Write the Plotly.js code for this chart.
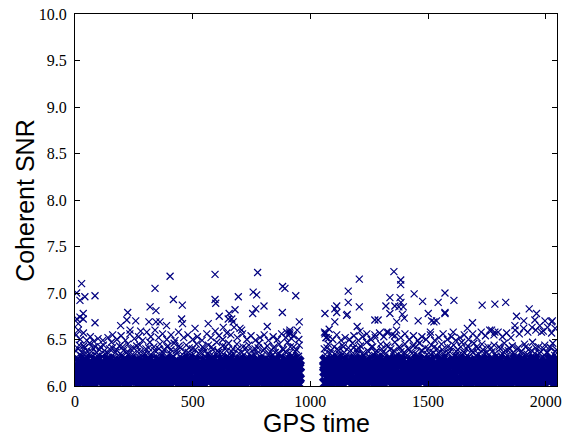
<!DOCTYPE html>
<html>
<head>
<meta charset="utf-8">
<script src="https://cdn.plot.ly/plotly-3.0.1.min.js"></script>
<style>html,body{margin:0;padding:0;background:#fff;}#chart{width:563px;height:436px;}</style>
</head>
<body>
<div id="chart"></div>
<script>
// Triggers: [GPS time, coherent SNR]
// Dense floor of triggers just above the 6.0 threshold
const floorRow1 = [[3,6.02],[27,6.04],[49,6.01],[76,6.03],[101,6.05],[124,6.02],[150,6.03],[176,6.01],[199,6.04],[223,6.02],[248,6.05],[274,6.01],[298,6.03],[322,6.02],[347,6.04],[371,6.01],[396,6.03],[421,6.05],[445,6.02],[470,6.01],[494,6.04],[519,6.03],[543,6.02],[568,6.05],[592,6.01],[617,6.03],[641,6.04],[666,6.02],[690,6.01],[715,6.03],[739,6.05],[764,6.02],[788,6.04],[813,6.01],[837,6.03],[862,6.02],[886,6.04],[911,6.01],[935,6.03],[949,6.02],
[1065,6.03],[1084,6.01],[1109,6.04],[1133,6.02],[1158,6.05],[1182,6.01],[1207,6.03],[1231,6.02],[1256,6.04],[1280,6.01],[1305,6.03],[1329,6.05],[1354,6.02],[1378,6.01],[1403,6.04],[1427,6.03],[1452,6.02],[1476,6.05],[1501,6.01],[1525,6.03],[1550,6.04],[1574,6.02],[1599,6.01],[1623,6.03],[1648,6.05],[1672,6.02],[1697,6.04],[1721,6.01],[1746,6.03],[1770,6.02],[1795,6.04],[1819,6.01],[1844,6.03],[1868,6.05],[1893,6.02],[1917,6.01],[1942,6.04],[1966,6.03],[1991,6.02],[2015,6.05],[2040,6.01]];
const floorRow2 = [[14,6.08],[38,6.10],[63,6.07],[88,6.09],[112,6.11],[137,6.08],[161,6.07],[186,6.10],[211,6.09],[235,6.07],[260,6.11],[285,6.08],[309,6.09],[334,6.07],[359,6.10],[383,6.08],[408,6.11],[433,6.07],[457,6.09],[482,6.10],[506,6.08],[531,6.07],[556,6.11],[580,6.09],[605,6.08],[629,6.10],[654,6.07],[678,6.09],[703,6.11],[727,6.08],[752,6.07],[776,6.10],[801,6.09],[825,6.08],[850,6.11],[874,6.07],[899,6.09],[923,6.10],[946,6.08],
[1072,6.09],[1097,6.07],[1121,6.10],[1146,6.08],[1170,6.11],[1195,6.07],[1219,6.09],[1244,6.10],[1268,6.08],[1293,6.07],[1317,6.11],[1342,6.09],[1366,6.08],[1391,6.10],[1415,6.07],[1440,6.09],[1464,6.11],[1489,6.08],[1513,6.07],[1538,6.10],[1562,6.09],[1587,6.08],[1611,6.11],[1636,6.07],[1660,6.09],[1685,6.10],[1709,6.08],[1734,6.07],[1758,6.11],[1783,6.09],[1807,6.08],[1832,6.10],[1856,6.07],[1881,6.09],[1905,6.11],[1930,6.08],[1954,6.07],[1979,6.10],[2003,6.09],[2028,6.08],[2047,6.10]];
const floorRow3 = [[6,6.15],[31,6.13],[55,6.17],[80,6.14],[104,6.16],[129,6.13],[153,6.18],[178,6.15],[202,6.14],[227,6.17],[251,6.13],[276,6.16],[300,6.15],[325,6.18],[349,6.14],[374,6.13],[398,6.17],[423,6.15],[447,6.16],[472,6.14],[496,6.18],[521,6.13],[545,6.15],[570,6.17],[594,6.14],[619,6.16],[643,6.13],[668,6.18],[692,6.15],[717,6.14],[741,6.17],[766,6.13],[790,6.16],[815,6.15],[839,6.18],[864,6.14],[888,6.13],[913,6.17],[937,6.15],[949,6.14],
[1066,6.16],[1086,6.14],[1111,6.17],[1135,6.13],[1160,6.15],[1184,6.18],[1209,6.14],[1233,6.16],[1258,6.13],[1282,6.17],[1307,6.15],[1331,6.14],[1356,6.18],[1380,6.13],[1405,6.16],[1429,6.15],[1454,6.17],[1478,6.14],[1503,6.13],[1527,6.18],[1552,6.15],[1576,6.16],[1601,6.14],[1625,6.17],[1650,6.13],[1674,6.15],[1699,6.18],[1723,6.14],[1748,6.16],[1772,6.13],[1797,6.17],[1821,6.15],[1846,6.14],[1870,6.18],[1895,6.16],[1919,6.13],[1944,6.15],[1968,6.17],[1993,6.14],[2017,6.16],[2042,6.15]];
const floorRow4 = [[17,6.26],[42,6.28],[66,6.25],[91,6.27],[115,6.24],[140,6.28],[164,6.26],[189,6.25],[213,6.28],[238,6.27],[262,6.24],[287,6.26],[311,6.28],[336,6.25],[360,6.27],[385,6.28],[409,6.24],[434,6.26],[458,6.25],[483,6.28],[507,6.27],[532,6.24],[556,6.26],[581,6.28],[605,6.25],[630,6.27],[654,6.28],[679,6.24],[703,6.26],[728,6.28],[752,6.25],[777,6.27],[801,6.24],[826,6.26],[850,6.28],[875,6.25],[899,6.27],[924,6.28],[947,6.26],
[1066,6.27],[1091,6.25],[1115,6.28],[1140,6.24],[1164,6.26],[1189,6.28],[1213,6.25],[1238,6.27],[1262,6.24],[1287,6.28],[1311,6.26],[1336,6.25],[1360,6.28],[1385,6.27],[1409,6.24],[1434,6.26],[1458,6.28],[1483,6.25],[1507,6.27],[1532,6.24],[1556,6.28],[1581,6.26],[1605,6.25],[1630,6.28],[1654,6.27],[1679,6.24],[1703,6.26],[1728,6.28],[1752,6.25],[1777,6.27],[1801,6.28],[1826,6.24],[1850,6.26],[1875,6.28],[1899,6.25],[1924,6.27],[1948,6.28],[1973,6.26],[1997,6.24],[2022,6.28],[2046,6.27]];
const floorRow5 = [[5,6.21],[29,6.20],[54,6.22],[78,6.21],[103,6.20],[127,6.22],[152,6.21],[176,6.20],[201,6.22],[225,6.21],[250,6.20],[274,6.22],[299,6.21],[323,6.20],[348,6.22],[372,6.21],[397,6.20],[421,6.22],[446,6.21],[470,6.20],[495,6.22],[519,6.21],[544,6.20],[568,6.22],[593,6.21],[617,6.20],[642,6.22],[666,6.21],[691,6.20],[715,6.22],[740,6.21],[764,6.20],[789,6.22],[813,6.21],[838,6.20],[862,6.22],[887,6.21],[911,6.20],[936,6.22],[949,6.21],
[1065,6.21],[1083,6.22],[1108,6.20],[1132,6.21],[1157,6.22],[1181,6.20],[1206,6.21],[1230,6.22],[1255,6.20],[1279,6.21],[1304,6.22],[1328,6.20],[1353,6.21],[1377,6.22],[1402,6.20],[1426,6.21],[1451,6.22],[1475,6.20],[1500,6.21],[1524,6.22],[1549,6.20],[1573,6.21],[1598,6.22],[1622,6.20],[1647,6.21],[1671,6.22],[1696,6.20],[1720,6.21],[1745,6.22],[1769,6.20],[1794,6.21],[1818,6.22],[1843,6.20],[1867,6.21],[1892,6.22],[1916,6.20],[1941,6.21],[1965,6.22],[1990,6.20],[2014,6.21],[2039,6.22]];
// Busy layer 6.25 - 6.47
const busyLeft = [[2,6.38],[10,6.29],[18,6.44],[25,6.33],[33,6.27],[40,6.41],[47,6.35],[55,6.30],[62,6.46],[70,6.37],[79,6.28],[86,6.42],[95,6.32],[104,6.39],[112,6.27],[121,6.44],[130,6.34],[138,6.29],[147,6.40],[155,6.47],[163,6.31],[172,6.36],[180,6.28],[189,6.43],[198,6.33],[206,6.38],[215,6.27],[224,6.45],[232,6.35],[241,6.30],[249,6.41],[258,6.29],[266,6.37],[275,6.44],[284,6.32],[292,6.28],[301,6.40],[309,6.35],[318,6.47],[327,6.30],[335,6.42],[344,6.37],[352,6.28],[361,6.45],[370,6.33],[378,6.39],[387,6.29],[395,6.43],[404,6.35],[413,6.31],[421,6.46],[430,6.38],[438,6.27],[447,6.41],[456,6.34],[464,6.29],[473,6.44],[481,6.36],[490,6.31],[499,6.40],[507,6.28],[516,6.45],[524,6.35],[533,6.30],[542,6.42],[550,6.37],[559,6.27],[567,6.44],[576,6.33],[585,6.39],[593,6.29],[602,6.47],[610,6.36],[619,6.31],[628,6.43],[636,6.28],[645,6.38],[653,6.46],[662,6.33],[671,6.40],[679,6.29],[688,6.45],[696,6.35],[705,6.30],[714,6.42],[722,6.27],[731,6.37],[739,6.44],[748,6.32],[757,6.28],[765,6.40],[774,6.35],[782,6.46],[791,6.30],[800,6.38],[808,6.27],[817,6.43],[825,6.34],[834,6.29],[843,6.41],[851,6.36],[860,6.28],[868,6.45],[877,6.33],[886,6.39],[894,6.30],[903,6.47],[911,6.35],[920,6.28],[929,6.42],[937,6.37],[946,6.31],[953,6.44]];
const busyLeft2 = [[6,6.31],[14,6.40],[21,6.26],[29,6.36],[37,6.43],[44,6.29],[51,6.38],[59,6.25],[66,6.33],[75,6.41],[83,6.30],[91,6.36],[99,6.27],[108,6.42],[116,6.32],[125,6.38],[134,6.26],[142,6.35],[151,6.30],[159,6.41],[168,6.27],[176,6.39],[185,6.33],[193,6.26],[202,6.42],[211,6.30],[219,6.36],[228,6.28],[236,6.40],[245,6.34],[254,6.26],[262,6.43],[271,6.31],[279,6.37],[288,6.27],[296,6.35],[305,6.29],[313,6.41],[322,6.34],[331,6.26],[339,6.38],[348,6.31],[356,6.40],[365,6.27],[374,6.36],[382,6.30],[391,6.42],[399,6.26],[408,6.39],[417,6.32],[425,6.28],[434,6.35],[442,6.43],[451,6.30],[460,6.26],[468,6.37],[477,6.32],[485,6.41],[494,6.27],[503,6.34],[511,6.39],[520,6.29],[528,6.26],[537,6.36],[546,6.41],[554,6.31],[563,6.35],[571,6.28],[580,6.42],[589,6.32],[597,6.26],[606,6.38],[614,6.30],[623,6.36],[632,6.27],[640,6.42],[649,6.32],[658,6.28],[666,6.37],[675,6.34],[683,6.26],[692,6.40],[700,6.30],[709,6.36],[718,6.28],[726,6.41],[735,6.31],[743,6.26],[752,6.38],[761,6.34],[769,6.29],[778,6.41],[786,6.27],[795,6.33],[804,6.40],[812,6.30],[821,6.26],[829,6.37],[838,6.33],[847,6.42],[855,6.27],[864,6.35],[872,6.31],[881,6.40],[890,6.26],[898,6.36],[907,6.30],[915,6.42],[924,6.33],[933,6.27],[941,6.39],[950,6.32],[955,6.26]];
const busyRight = [[1059,6.40],[1067,6.30],[1076,6.45],[1084,6.35],[1093,6.28],[1101,6.42],[1110,6.33],[1119,6.38],[1127,6.27],[1136,6.44],[1144,6.36],[1153,6.31],[1162,6.41],[1170,6.29],[1179,6.46],[1187,6.34],[1196,6.39],[1205,6.28],[1213,6.43],[1222,6.35],[1230,6.30],[1239,6.47],[1248,6.37],[1256,6.27],[1265,6.42],[1273,6.33],[1282,6.38],[1291,6.29],[1299,6.45],[1308,6.36],[1316,6.31],[1325,6.44],[1334,6.28],[1342,6.40],[1351,6.35],[1359,6.47],[1368,6.30],[1377,6.42],[1385,6.37],[1394,6.28],[1402,6.45],[1411,6.33],[1420,6.39],[1428,6.29],[1437,6.43],[1445,6.35],[1454,6.31],[1463,6.46],[1471,6.38],[1480,6.27],[1488,6.41],[1497,6.34],[1506,6.29],[1514,6.44],[1523,6.36],[1531,6.31],[1540,6.40],[1549,6.28],[1557,6.45],[1566,6.35],[1574,6.30],[1583,6.42],[1592,6.37],[1600,6.27],[1609,6.44],[1617,6.33],[1626,6.39],[1635,6.29],[1643,6.47],[1652,6.36],[1660,6.31],[1669,6.43],[1678,6.28],[1686,6.38],[1695,6.46],[1703,6.33],[1712,6.40],[1721,6.29],[1729,6.45],[1738,6.35],[1746,6.30],[1755,6.42],[1764,6.27],[1772,6.37],[1781,6.44],[1789,6.32],[1798,6.28],[1807,6.40],[1815,6.35],[1824,6.46],[1832,6.30],[1841,6.38],[1850,6.27],[1858,6.43],[1867,6.34],[1875,6.29],[1884,6.41],[1893,6.36],[1901,6.28],[1910,6.45],[1918,6.33],[1927,6.39],[1936,6.30],[1944,6.47],[1953,6.35],[1961,6.28],[1970,6.42],[1979,6.37],[1987,6.31],[1996,6.44],[2004,6.36],[2013,6.29],[2021,6.41],[2030,6.46],[2038,6.33],[2046,6.39]];
const busyRight2 = [[1063,6.34],[1071,6.41],[1080,6.27],[1088,6.38],[1097,6.31],[1105,6.26],[1114,6.40],[1123,6.34],[1131,6.29],[1140,6.42],[1148,6.32],[1157,6.26],[1166,6.37],[1174,6.30],[1183,6.41],[1191,6.27],[1200,6.35],[1209,6.40],[1217,6.29],[1226,6.33],[1234,6.26],[1243,6.38],[1252,6.31],[1260,6.42],[1269,6.28],[1277,6.36],[1286,6.32],[1295,6.26],[1303,6.40],[1312,6.29],[1320,6.35],[1329,6.42],[1338,6.31],[1346,6.26],[1355,6.38],[1363,6.33],[1372,6.27],[1381,6.41],[1389,6.32],[1398,6.36],[1406,6.26],[1415,6.40],[1424,6.30],[1432,6.35],[1441,6.27],[1449,6.42],[1458,6.33],[1467,6.29],[1475,6.38],[1484,6.31],[1492,6.26],[1501,6.40],[1510,6.34],[1518,6.28],[1527,6.42],[1535,6.30],[1544,6.36],[1553,6.26],[1561,6.39],[1570,6.32],[1578,6.28],[1587,6.35],[1596,6.41],[1604,6.30],[1613,6.26],[1621,6.37],[1630,6.33],[1639,6.42],[1647,6.28],[1656,6.35],[1664,6.40],[1673,6.31],[1682,6.26],[1690,6.36],[1699,6.30],[1707,6.42],[1716,6.34],[1725,6.27],[1733,6.39],[1742,6.31],[1750,6.36],[1759,6.26],[1768,6.41],[1776,6.30],[1785,6.35],[1793,6.28],[1802,6.42],[1811,6.32],[1819,6.26],[1828,6.38],[1836,6.33],[1845,6.41],[1854,6.29],[1862,6.36],[1871,6.26],[1879,6.40],[1888,6.31],[1897,6.37],[1905,6.28],[1914,6.42],[1922,6.34],[1931,6.27],[1940,6.38],[1948,6.32],[1957,6.41],[1965,6.26],[1974,6.35],[1983,6.30],[1991,6.40],[2000,6.28],[2008,6.36],[2017,6.42],[2025,6.31],[2034,6.26],[2042,6.37]];
// Thinner layer 6.48 - 6.65
const upperLeft = [[5,6.55],[14,6.60],[22,6.50],[36,6.57],[50,6.49],[65,6.53],[80,6.48],[98,6.51],[118,6.49],[140,6.52],[160,6.55],[178,6.50],[196,6.54],[214,6.49],[233,6.56],[252,6.51],[270,6.53],[288,6.49],[305,6.58],[322,6.53],[340,6.60],[355,6.52],[372,6.56],[390,6.50],[408,6.55],[425,6.49],[440,6.58],[462,6.52],[480,6.55],[500,6.50],[520,6.53],[540,6.49],[560,6.56],[578,6.52],[596,6.59],[612,6.54],[628,6.50],[645,6.57],[662,6.55],[676,6.63],[690,6.52],[712,6.56],[730,6.50],[748,6.54],[766,6.49],[786,6.52],[804,6.55],[822,6.49],[842,6.53],[860,6.50],[878,6.56],[896,6.52],[912,6.58],[928,6.54],[944,6.60],[951,6.50],[899,6.58],[913,6.56],[920,6.51]];
const upperRight = [[1060,6.58],[1068,6.52],[1080,6.61],[1095,6.50],[1112,6.55],[1130,6.49],[1148,6.52],[1166,6.50],[1185,6.54],[1204,6.49],[1222,6.53],[1240,6.56],[1258,6.50],[1276,6.52],[1294,6.57],[1312,6.53],[1330,6.58],[1348,6.55],[1366,6.60],[1384,6.52],[1402,6.56],[1420,6.50],[1438,6.54],[1456,6.49],[1474,6.53],[1492,6.50],[1510,6.55],[1528,6.49],[1546,6.52],[1564,6.56],[1582,6.50],[1600,6.53],[1618,6.49],[1636,6.52],[1654,6.55],[1672,6.50],[1690,6.56],[1708,6.52],[1726,6.58],[1744,6.54],[1762,6.60],[1780,6.55],[1798,6.58],[1816,6.53],[1834,6.57],[1852,6.52],[1870,6.60],[1888,6.56],[1906,6.62],[1924,6.58],[1942,6.63],[1958,6.60],[1975,6.65],[1990,6.59],[2008,6.63],[2025,6.57],[2040,6.62],[1062,6.56],[1076,6.51]];
// Loud outliers
const loudLeft = [[404,7.18],[28,7.10],[340,7.05],[7,7.00],[42,6.96],[85,6.97],[21,6.92],[418,6.93],[456,6.87],[319,6.85],[344,6.81],[224,6.79],[35,6.78],[35,6.72],[21,6.74],[85,6.68],[220,6.71],[258,6.70],[314,6.69],[344,6.69],[361,6.69],[194,6.65],[234,6.60],[389,6.65],[453,6.72],[457,6.67],[279,6.59],[8,6.72],[14,6.67],
[595,7.20],[776,7.22],[882,7.07],[892,7.05],[757,7.01],[772,6.98],[694,6.96],[938,6.97],[595,6.93],[598,6.89],[803,6.86],[768,6.83],[755,6.78],[680,6.82],[881,6.79],[613,6.75],[655,6.78],[666,6.72],[651,6.72],[672,6.69],[953,6.69],[817,6.64],[701,6.62],[708,6.60],[630,6.63],[566,6.67],[510,6.62],[913,6.60]];
const loudRight = [[1355,7.23],[1208,7.15],[1384,7.14],[1384,7.09],[1161,7.02],[1441,6.99],[1338,6.95],[1381,6.95],[1385,6.90],[1376,6.85],[1477,6.91],[1161,6.90],[1112,6.86],[1112,6.79],[1208,6.85],[1321,6.86],[1359,6.86],[1395,6.85],[1391,6.77],[1062,6.78],[1157,6.77],[1338,6.78],[1501,6.78],[1104,6.69],[1367,6.69],[1399,6.73],[1458,6.70],[1515,6.70],[1274,6.71],[1288,6.71],[1199,6.64],[1066,6.57],[1066,6.52],[1211,6.59],[1274,6.55],[1324,6.58],[1359,6.54],[1104,6.83],[1154,6.76],
[1572,7.00],[1543,6.90],[1610,6.92],[1730,6.87],[1784,6.88],[1830,6.90],[1572,6.79],[1572,6.78],[1930,6.83],[1961,6.78],[1954,6.71],[1876,6.75],[1997,6.70],[2025,6.69],[1536,6.70],[1525,6.69],[1689,6.68],[1667,6.62],[1869,6.65],[1907,6.70],[1770,6.60],[1784,6.58],[1607,6.58],[1982,6.58],[1510,6.58],[2028,6.70]];

const xTicks = [0, 500, 1000, 1500, 2000];
const xTickText = ['0', '500', '1000', '1500', '2000'];
const yTicks = [6.0, 6.5, 7.0, 7.5, 8.0, 8.5, 9.0, 9.5, 10.0];
const yTickText = ['6.0', '6.5', '7.0', '7.5', '8.0', '8.5', '9.0', '9.5', '10.0'];
const xTitle = 'GPS time';
const yTitle = 'Coherent SNR';

const NAVY = '#000080';
const floorPts = floorRow1.concat(floorRow2, floorRow3, floorRow5, floorRow4);
const thinPts = busyLeft.concat(busyLeft2, busyRight, busyRight2, upperLeft, upperRight, loudLeft, loudRight);

const traces = [
  {
    type: 'scatter', mode: 'markers',
    x: floorPts.map(p => p[0]), y: floorPts.map(p => p[1]),
    marker: {symbol: 'x', size: 12, color: NAVY, line: {width: 0}},
    hoverinfo: 'skip', showlegend: false, cliponaxis: true
  },
  {
    type: 'scatter', mode: 'markers',
    x: thinPts.map(p => p[0]), y: thinPts.map(p => p[1]),
    marker: {symbol: 'x-thin-open', size: 7, color: NAVY, line: {width: 1.2, color: NAVY}},
    showlegend: false, cliponaxis: true
  }
];

const tickFont = {family: 'Liberation Serif', size: 16, color: '#000'};
const titleFont = {family: 'Liberation Sans', size: 25, color: '#000'};
const axisCommon = {
  showgrid: false, zeroline: false, showline: true, linecolor: '#000', linewidth: 1,
  mirror: 'allticks', ticks: 'inside', ticklen: 5, tickwidth: 1, tickcolor: '#000',
  tickfont: tickFont
};

const layout = {
  width: 563, height: 436,
  margin: {l: 75, r: 6, t: 14, b: 50},
  paper_bgcolor: '#fff', plot_bgcolor: '#fff',
  xaxis: Object.assign({}, axisCommon, {
    range: [0, 2048], tickmode: 'array', tickvals: xTicks, ticktext: xTickText,
    ticklabelstandoff: 1
  }),
  yaxis: Object.assign({}, axisCommon, {
    range: [6, 10], tickmode: 'array', tickvals: yTicks, ticktext: yTickText,
    ticklabelstandoff: 4
  }),
  annotations: [
    {text: xTitle, xref: 'paper', yref: 'paper', x: 0.5, y: -0.1, xanchor: 'center', yanchor: 'middle',
     borderpad: 0, showarrow: false, font: titleFont},
    {text: yTitle, xref: 'paper', yref: 'paper', x: -0.104, y: 0.5, xanchor: 'center', yanchor: 'middle',
     borderpad: 0, textangle: -90, showarrow: false, font: titleFont}
  ],
  showlegend: false
};

Plotly.newPlot('chart', traces, layout, {staticPlot: true, displayModeBar: false});
</script>
</body>
</html>
